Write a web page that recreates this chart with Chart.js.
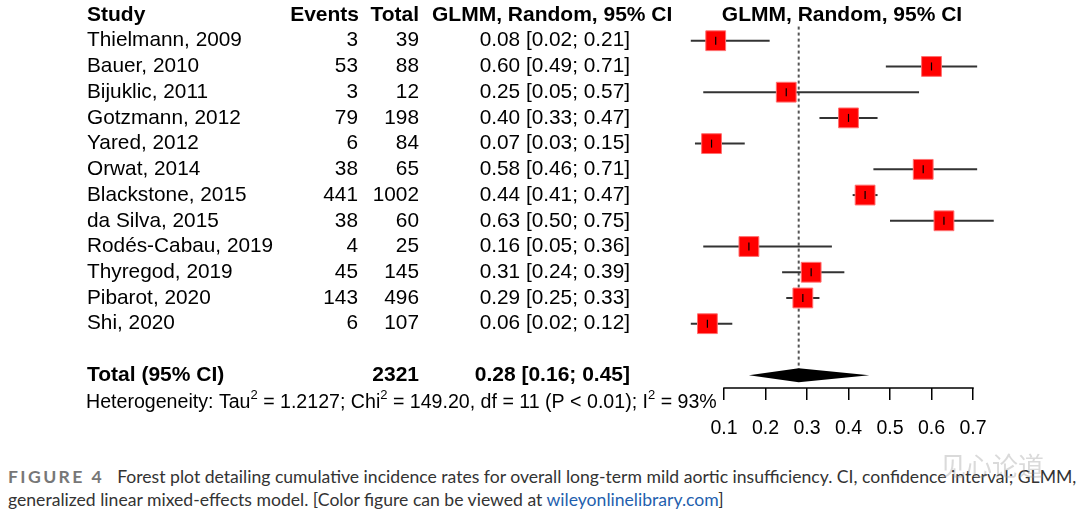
<!DOCTYPE html>
<html>
<head>
<meta charset="utf-8">
<script src="https://cdn.jsdelivr.net/npm/chart.js@4"></script>
<style>
  body { margin: 0; background: #fff; width: 1080px; height: 512px; overflow: hidden; position: relative; }
  #wrap { position: absolute; left: 0; top: 0; width: 1080px; height: 450px; }
  .cap { position: absolute; left: 8px; font-family: Lato, "Open Sans", sans-serif; font-size: 17.6px; color: #333; white-space: nowrap; }
  .fig { font-weight: bold; color: #777; letter-spacing: 2.4px; margin-right: 13px; }
  .cap a { color: #1f5fae; text-decoration: none; }
  .wm { position: absolute; left: 940px; top: 446px; font-family: "Noto Sans CJK SC", sans-serif; font-size: 26px; color: rgba(150,150,150,0.35); }
</style>
</head>
<body>
<div id="wrap"><canvas id="forest" width="1080" height="450"></canvas></div>
<div class="cap" style="top:466px"><span class="fig">FIGURE 4</span>Forest plot detailing cumulative incidence rates for overall long-term mild aortic insufficiency. CI, confidence interval; GLMM,</div>
<div class="cap" style="top:489px">generalized linear mixed-effects model. [Color figure can be viewed at <a>wileyonlinelibrary.com</a>]</div>
<div class="wm">见心论道</div>
<script>
// study data
const studies = ["Thielmann, 2009", "Bauer, 2010", "Bijuklic, 2011", "Gotzmann, 2012", "Yared, 2012", "Orwat, 2014",
  "Blackstone, 2015", "da Silva, 2015", "Rodés-Cabau, 2019", "Thyregod, 2019", "Pibarot, 2020", "Shi, 2020"];
const events = [3, 53, 3, 79, 6, 38, 441, 38, 4, 45, 143, 6];
const totals = [39, 88, 12, 198, 84, 65, 1002, 60, 25, 145, 496, 107];
const est = [0.08, 0.60, 0.25, 0.40, 0.07, 0.58, 0.44, 0.63, 0.16, 0.31, 0.29, 0.06];
const lower = [0.02, 0.49, 0.05, 0.33, 0.03, 0.46, 0.41, 0.50, 0.05, 0.24, 0.25, 0.02];
const upper = [0.21, 0.71, 0.57, 0.47, 0.15, 0.71, 0.47, 0.75, 0.36, 0.39, 0.33, 0.12];

// pooled
const pooledTotal = 2321;
const pooled = { est: 0.28, lo: 0.16, hi: 0.45 };
const xTicks = [0.1, 0.2, 0.3, 0.4, 0.5, 0.6, 0.7];

const FAM = '"Liberation Sans", Arial, sans-serif';
const FONT = '20.8px ' + FAM;
const BOLD = 'bold 21px ' + FAM;
const ci = (e, l, h) => e.toFixed(2) + " [" + l.toFixed(2) + "; " + h.toFixed(2) + "]";

const forestPlugin = {
  id: "forest",
  beforeDatasetsDraw(chart) {
    const { ctx, scales: { x, y } } = chart;
    ctx.save();
    // axis line, only over the tick range
    const by = chart.chartArea.bottom;
    ctx.strokeStyle = "#000";
    ctx.lineWidth = 1.5;
    ctx.beginPath();
    ctx.moveTo(x.getPixelForValue(xTicks[0]) - 0.75, by);
    ctx.lineTo(x.getPixelForValue(xTicks[xTicks.length - 1]) + 0.75, by);
    ctx.stroke();
    // reference line
    ctx.strokeStyle = "#555";
    ctx.lineWidth = 2;
    ctx.setLineDash([3, 3]);
    ctx.beginPath();
    ctx.moveTo(x.getPixelForValue(pooled.est), y.getPixelForValue(0.45));
    ctx.lineTo(x.getPixelForValue(pooled.est), y.getPixelForValue(14));
    ctx.stroke();
    ctx.setLineDash([]);
    // CI lines
    ctx.strokeStyle = "#333";
    ctx.lineWidth = 2;
    studies.forEach((s, i) => {
      const py = y.getPixelForValue(i + 1);
      ctx.beginPath();
      ctx.moveTo(x.getPixelForValue(lower[i]), py);
      ctx.lineTo(x.getPixelForValue(upper[i]), py);
      ctx.stroke();
    });
    // diamond
    const dy = y.getPixelForValue(14);
    ctx.fillStyle = "#000";
    ctx.beginPath();
    ctx.moveTo(x.getPixelForValue(pooled.lo), dy);
    ctx.lineTo(x.getPixelForValue(pooled.est), dy - 7);
    ctx.lineTo(x.getPixelForValue(pooled.hi), dy);
    ctx.lineTo(x.getPixelForValue(pooled.est), dy + 7);
    ctx.closePath();
    ctx.fill();
    ctx.restore();
  },
  afterDatasetsDraw(chart) {
    const { ctx, scales: { x, y } } = chart;
    ctx.save();
    // point marks inside squares
    ctx.strokeStyle = "#000";
    ctx.lineWidth = 1.2;
    studies.forEach((s, i) => {
      const px = x.getPixelForValue(est[i]), py = y.getPixelForValue(i + 1);
      ctx.beginPath();
      ctx.moveTo(px, py - 4);
      ctx.lineTo(px, py + 4);
      ctx.stroke();
    });
    ctx.restore();
  },
  afterDraw(chart) {
    const { ctx, scales: { y } } = chart;
    ctx.save();
    ctx.fillStyle = "#000";
    ctx.textBaseline = "middle";
    // headers
    const hy = y.getPixelForValue(0);
    ctx.font = BOLD;
    ctx.textAlign = "left";
    ctx.fillText("Study", 87, hy);
    ctx.fillText("GLMM, Random, 95% CI", 432, hy);
    ctx.textAlign = "right";
    ctx.fillText("Events", 359, hy);
    ctx.fillText("Total", 419, hy);
    ctx.textAlign = "center";
    ctx.fillText("GLMM, Random, 95% CI", 842, hy);
    // rows
    ctx.font = FONT;
    studies.forEach((s, i) => {
      const py = y.getPixelForValue(i + 1);
      ctx.textAlign = "left";
      ctx.fillText(s, 87, py);
      ctx.textAlign = "right";
      ctx.fillText(String(events[i]), 358, py);
      ctx.fillText(String(totals[i]), 419, py);
      ctx.fillText(ci(est[i], lower[i], upper[i]), 630, py);
    });
    // total row
    const ty = y.getPixelForValue(14);
    ctx.font = BOLD;
    ctx.textAlign = "left";
    ctx.fillText("Total (95% CI)", 87, ty);
    ctx.textAlign = "right";
    ctx.fillText(String(pooledTotal), 419, ty);
    ctx.fillText(ci(pooled.est, pooled.lo, pooled.hi), 630, ty);
    // heterogeneity
    const hy2 = y.getPixelForValue(15.05);
    const parts = [["Heterogeneity: Tau", 0], ["2", 1], [" = 1.2127; Chi", 0], ["2", 1],
      [" = 149.20, df = 11 (P < 0.01); I", 0], ["2", 1], [" = 93%", 0]];
    let cx = 86;
    ctx.textAlign = "left";
    parts.forEach(([t, sup]) => {
      ctx.font = sup ? '13px ' + FAM : '19.6px ' + FAM;
      ctx.fillText(t, cx, sup ? hy2 - 7 : hy2);
      cx += ctx.measureText(t).width;
    });
    ctx.restore();
  }
};

new Chart(document.getElementById("forest"), {
  type: "scatter",
  data: {
    datasets: [{
      data: est.map((e, i) => ({ x: e, y: i + 1 })),
      pointStyle: "rect",
      pointRadius: 14,
      pointHoverRadius: 14,
      backgroundColor: "#ff0000",
      borderColor: "#ff7070",
      borderWidth: 1,
      clip: false
    }]
  },
  plugins: [forestPlugin],
  options: {
    responsive: false,
    animation: false,
    events: [],
    layout: { padding: { left: 682.5, right: 65.5, top: 13, bottom: 7 } },
    plugins: { legend: { display: false }, tooltip: { enabled: false } },
    scales: {
      x: {
        type: "linear",
        min: 0,
        max: 0.8,
        afterBuildTicks: (s) => { s.ticks = xTicks.map((v) => ({ value: v })); },
        afterFit: (s) => { s.height = 55; },
        ticks: {
          color: "#000",
          padding: 17,
          font: { family: FAM, size: 19.5 },
          callback: (v) => v.toFixed(1)
        },
        grid: { drawOnChartArea: false, drawTicks: true, tickLength: 12, color: "#000", lineWidth: 1.5 },
        border: { display: false }
      },
      y: {
        type: "linear",
        display: false,
        min: 0,
        max: 14.5,
        reverse: true
      }
    }
  }
});
</script>
</body>
</html>
